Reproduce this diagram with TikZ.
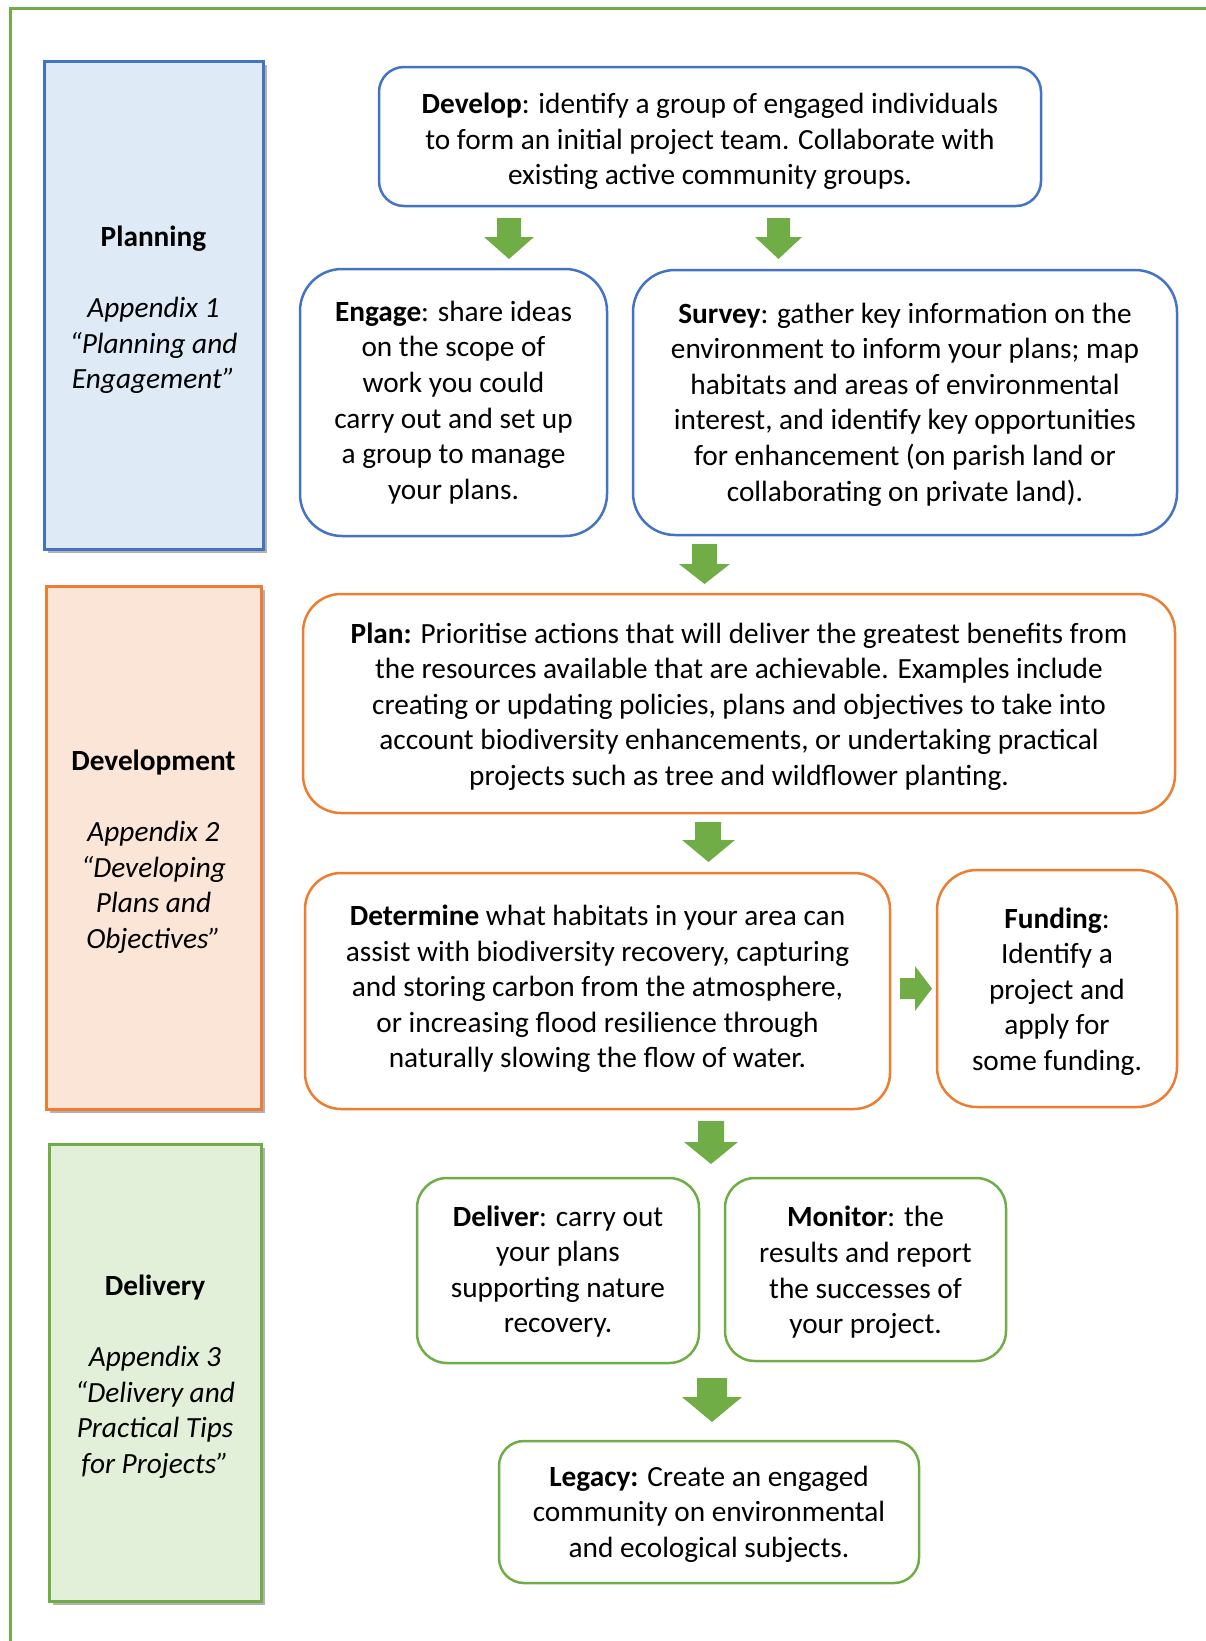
\documentclass[tikz,border=0pt]{standalone}
\usepackage{fontspec}
\setmainfont{Carlito}
\usetikzlibrary{shadows}
\definecolor{gline}{HTML}{70AD47}
\definecolor{bline}{HTML}{4472C4}
\definecolor{oline}{HTML}{ED7D31}
\definecolor{bfill}{HTML}{DEEBF7}
\definecolor{ofill}{HTML}{FBE5D6}
\definecolor{gfill}{HTML}{E2F0D9}
\tikzset{
  txt/.style={font=\fontsize{29.3}{35.6}\selectfont, align=center, inner sep=0pt},
  side/.style={draw, line width=3pt, minimum width=#1, inner sep=0pt, drop shadow={shadow xshift=4pt, shadow yshift=-4pt, fill=black, opacity=0.3}},
  flow/.style={draw, fill=white, line width=2.5pt, inner sep=0pt},
  arr/.style={fill=gline, draw=none}
}
\begin{document}
\begin{tikzpicture}[x=1pt,y=-1pt]
\useasboundingbox (0,0) rectangle (1206,1641);
% outer frame
\draw[gline, line width=3pt] (10.5,1645) -- (10.5,8) -- (1210,8);

% side boxes
\node[side=219pt, draw=bline, fill=bfill, minimum height=488pt] (planning) at (153.5,305) {};
\node[txt] (planningtxt) at ([yshift=-5pt]planning.center)
  {\textbf{Planning}\\[35.6pt]\textit{Appendix 1}\\\textit{“Planning and}\\\textit{Engagement”}};
\node[side=215pt, draw=oline, fill=ofill, minimum height=523pt] (development) at (153.5,847.5) {};
\node[txt] (developmenttxt) at ([yshift=-4pt]development.center)
  {\textbf{Development}\\[35.6pt]\textit{Appendix 2}\\\textit{“Developing}\\\textit{Plans and}\\\textit{Objectives”}};
\node[side=212pt, draw=gline, fill=gfill, minimum height=457pt] (delivery) at (155,1372.5) {};
\node[txt] (deliverytxt) at ([yshift=-4pt]delivery.center)
  {\textbf{Delivery}\\[35.6pt]\textit{Appendix 3}\\\textit{“Delivery and}\\\textit{Practical Tips}\\\textit{for Projects”}};

% flow boxes
\node[flow, draw=bline, rounded corners=25pt, minimum width=662pt, minimum height=139pt] (develop) at (710,136.5) {};
\node[txt] (developtxt) at ([yshift=-5pt]develop.center)
  {\textbf{Develop}: identify a group of engaged individuals\\to form an initial project team. Collaborate with\\existing active community groups.};
\node[flow, draw=bline, rounded corners=42pt, minimum width=307pt, minimum height=267pt] (engage) at (453.5,402.5) {};
\node[txt] (engagetxt) at (engage.center)
  {\textbf{Engage}: share ideas\\on the scope of\\work you could\\carry out and set up\\a group to manage\\your plans.};
\node[flow, draw=bline, rounded corners=42pt, minimum width=544pt, minimum height=265pt] (survey) at (905,402.5) {};
\node[txt] (surveytxt) at ([yshift=-2pt]survey.center)
  {\textbf{Survey}: gather key information on the\\environment to inform your plans; map\\habitats and areas of environmental\\interest, and identify key opportunities\\for enhancement (on parish land or\\collaborating on private land).};
\node[flow, draw=oline, rounded corners=38pt, minimum width=872pt, minimum height=219pt] (plan) at (739,703.5) {};
\node[txt] (plantxt) at ([yshift=-3pt]plan.center)
  {\textbf{Plan:} Prioritise actions that will deliver the greatest benefits from\\the resources available that are achievable. Examples include\\creating or updating policies, plans and objectives to take into\\account biodiversity enhancements, or undertaking practical\\projects such as tree and wildflower planting.};
\node[flow, draw=oline, rounded corners=36pt, minimum width=585pt, minimum height=236pt] (determine) at (597.5,991) {};
\node[txt] (determinetxt) at ([yshift=2pt]determine.center)
  {\textbf{Determine} what habitats in your area can\\assist with biodiversity recovery, capturing\\and storing carbon from the atmosphere,\\or increasing flood resilience through\\naturally slowing the flow of water.};
\node[flow, draw=oline, rounded corners=40pt, minimum width=240pt, minimum height=237pt] (funding) at (1057,988.5) {};
\node[txt] (fundingtxt) at ([yshift=-3pt]funding.center)
  {\textbf{Funding}:\\Identify a\\project and\\apply for\\some funding.};
\node[flow, draw=gline, rounded corners=30pt, minimum width=282pt, minimum height=185pt] (deliver) at (558,1270.5) {};
\node[txt] (delivertxt) at ([yshift=-1pt]deliver.center)
  {\textbf{Deliver}: carry out\\your plans\\supporting nature\\recovery.};
\node[flow, draw=gline, rounded corners=30pt, minimum width=281pt, minimum height=183pt] (monitor) at (865.5,1269.5) {};
\node[txt] (monitortxt) at ([yshift=-3pt]monitor.center)
  {\textbf{Monitor}: the\\results and report\\the successes of\\your project.};
\node[flow, draw=gline, rounded corners=25pt, minimum width=420pt, minimum height=142pt] (legacy) at (709,1512) {};
\node[txt] (legacytxt) at ([yshift=-2pt]legacy.center)
  {\textbf{Legacy:} Create an engaged\\community on environmental\\and ecological subjects.};

% block arrows
\fill[arr] (497,218) -- (521,218) -- (521,237) -- (534,237) -- (509,259) -- (484,237) -- (497,237) -- cycle;
\fill[arr] (767,218) -- (790,218) -- (790,237) -- (802,237) -- (778.5,259) -- (755,237) -- (767,237) -- cycle;
\fill[arr] (692,544) -- (717,544) -- (717,564) -- (730,564) -- (704.5,584) -- (679,564) -- (692,564) -- cycle;
\fill[arr] (695,822) -- (721,822) -- (721,840) -- (735,840) -- (708.5,862) -- (682,840) -- (695,840) -- cycle;
\fill[arr] (698,1121) -- (724,1121) -- (724,1142) -- (738,1142) -- (711,1164) -- (684,1142) -- (698,1142) -- cycle;
\fill[arr] (697,1378) -- (727,1378) -- (727,1397) -- (742,1397) -- (712,1422) -- (682,1397) -- (697,1397) -- cycle;
\fill[arr] (900,978) -- (915,978) -- (915,966) -- (932,988.5) -- (915,1011) -- (915,999) -- (900,999) -- cycle;
\end{tikzpicture}
\end{document}
